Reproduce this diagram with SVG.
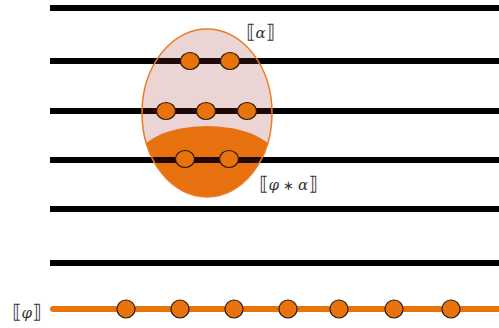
<svg xmlns="http://www.w3.org/2000/svg" width="499" height="328" viewBox="0 0 499 328">
<style>
.ln{stroke:#000;stroke-width:6}
.dot{fill:#e8720c;stroke:#2a1a10;stroke-width:1.2}
.lbl{font-family:"DejaVu Sans","Liberation Serif",serif;font-size:19px;fill:#333}
.g{font-family:"DejaVu Serif","Liberation Serif",serif;font-style:italic;font-size:15px}
</style>
<defs>
<clipPath id="ec"><ellipse cx="207" cy="113" rx="65" ry="84"/></clipPath>
</defs>
<g id="cap" clip-path="url(#ec)">
<ellipse cx="207" cy="160" rx="70" ry="34" fill="#fc8409"/>
<rect x="130" y="160" width="160" height="50" fill="#fc8409"/>
</g>
<g id="connectors">
<line class="ln" x1="50" y1="8" x2="499" y2="8"/>
<line class="ln" x1="50" y1="61" x2="499" y2="61"/>
<line class="ln" x1="50" y1="111" x2="499" y2="111"/>
<line class="ln" x1="50" y1="160" x2="499" y2="160"/>
<line class="ln" x1="50" y1="209" x2="499" y2="209"/>
<line class="ln" x1="50" y1="263" x2="499" y2="263"/>
<line x1="53" y1="309" x2="502" y2="309" stroke="#e8720c" stroke-width="6" stroke-linecap="round"/>
</g>
<g id="alpha">
<ellipse cx="207" cy="113" rx="65" ry="84" fill="rgb(150,40,40)" fill-opacity="0.2" stroke="#ee7a22" stroke-width="1.5"/>
</g>
<g id="dots">
<ellipse class="dot" cx="190" cy="61" rx="9.5" ry="8.5"/>
<ellipse class="dot" cx="230" cy="61" rx="9.5" ry="8.5"/>
<ellipse class="dot" cx="166" cy="111" rx="9.5" ry="8.5"/>
<ellipse class="dot" cx="206" cy="111" rx="9.5" ry="8.5"/>
<ellipse class="dot" cx="247" cy="111" rx="9.5" ry="8.5"/>
<ellipse class="dot" cx="185" cy="159" rx="9.5" ry="8.5"/>
<ellipse class="dot" cx="229" cy="159" rx="9.5" ry="8.5"/>
</g>
<g id="phi-dots">
<circle class="dot" cx="126" cy="309" r="9"/>
<circle class="dot" cx="180" cy="309" r="9"/>
<circle class="dot" cx="234" cy="309" r="9"/>
<circle class="dot" cx="288" cy="309" r="9"/>
<circle class="dot" cx="339" cy="309" r="9"/>
<circle class="dot" cx="394" cy="309" r="9"/>
<circle class="dot" cx="451" cy="309" r="9"/>
</g>
<g id="labels">
<text class="lbl" x="246" y="38">⟦<tspan class="g">α</tspan>⟧</text>
<text class="lbl" x="259" y="190">⟦<tspan class="g">φ</tspan><tspan font-size="13"> ∗ </tspan><tspan class="g">α</tspan>⟧</text>
<text class="lbl" x="12" y="318">⟦<tspan class="g">φ</tspan>⟧</text>
</g>
</svg>
